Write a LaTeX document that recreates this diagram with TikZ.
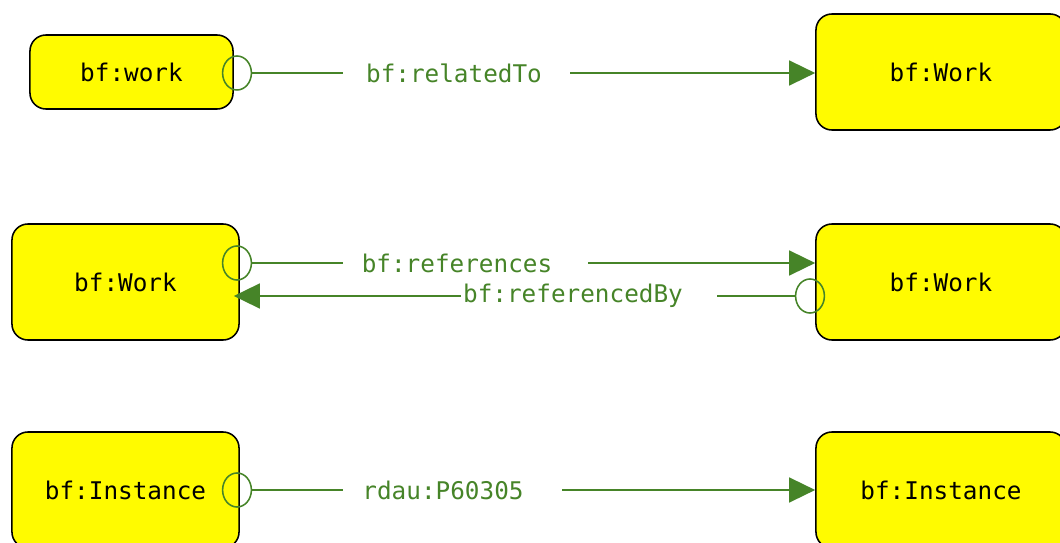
\documentclass[tikz,border=0pt]{standalone}
\usepackage{fontspec}
\setmonofont{DejaVu Sans Mono}
\usetikzlibrary{arrows.meta,shapes.geometric}
\definecolor{propgreen}{RGB}{70,132,40}
\definecolor{boxyellow}{RGB}{255,251,0}

\begin{document}
\begin{tikzpicture}[x=0.025cm,y=-0.025cm,
    box/.style={draw=black,line width=1.1pt,fill=boxyellow,rounded corners=0.4cm,
        font=\ttfamily\fontsize{17.3}{20}\selectfont,inner sep=0pt},
    ring/.style={draw=propgreen,ellipse,line width=1.1pt,minimum width=0.72cm,minimum height=0.85cm,inner sep=0pt},
    prop/.style={text=propgreen,font=\ttfamily\fontsize{17.3}{20}\selectfont,inner sep=0pt},
    stem/.style={draw=propgreen,line width=1.1pt},
    shaft/.style={draw=propgreen,line width=1.5pt,-{Triangle[length=0.65cm,width=0.62cm]}}]
            \useasboundingbox (0,0) rectangle (1060,543);

            % boxes
            \node[box,minimum width=5.075cm,minimum height=1.85cm] (w1l) at (131.5,72) {bf:work};
            \node[box,minimum width=6.25cm,minimum height=2.9cm] (w1r) at (941,72) {bf:Work};
            \node[box,minimum width=5.675cm,minimum height=2.9cm] (w2l) at (125.5,282) {bf:Work};
            \node[box,minimum width=6.25cm,minimum height=2.9cm] (w2r) at (941,282) {bf:Work};
            \node[box,minimum width=5.675cm,minimum height=2.9cm] (i3l) at (125.5,490) {bf:Instance};
            \node[box,minimum width=6.25cm,minimum height=2.9cm] (i3r) at (941,490) {bf:Instance};

            % bf:relatedTo
            \node[ring] (c1) at (237,73) {};
            \coordinate (g1a) at (343,73);
            \coordinate (g1b) at (570,73);
            \node[prop] (p1) at (454,73) {bf:relatedTo};
            \draw[stem] (c1.east) -- (g1a);
            \draw[shaft] (g1b) -- (g1b -| w1r.west);

            % bf:references
            \node[ring] (c2) at (237,263) {};
            \coordinate (g2a) at (343,263);
            \coordinate (g2b) at (588,263);
            \node[prop] (p2) at (457,263) {bf:references};
            \draw[stem] (c2.east) -- (g2a);
            \draw[shaft] (g2b) -- (g2b -| w2r.west);

            % bf:referencedBy
            \node[ring] (c3) at (810,296) {};
            \coordinate (g3a) at (717,296);
            \coordinate (g3b) at (461,296);
            \node[prop] (p3) at (573,296) {bf:referencedBy};
            \draw[stem] (c3.west) -- (g3a);
            \draw[shaft,shorten >=-0.15cm] (g3b) -- (g3b -| w2l.east);

            % rdau:P60305
            \node[ring] (c4) at (237,490) {};
            \coordinate (g4a) at (343,490);
            \coordinate (g4b) at (562,490);
            \node[prop] (p4) at (443,490) {rdau:P60305};
            \draw[stem] (c4.east) -- (g4a);
            \draw[shaft] (g4b) -- (g4b -| i3r.west);
        \end{tikzpicture}
\end{document}
